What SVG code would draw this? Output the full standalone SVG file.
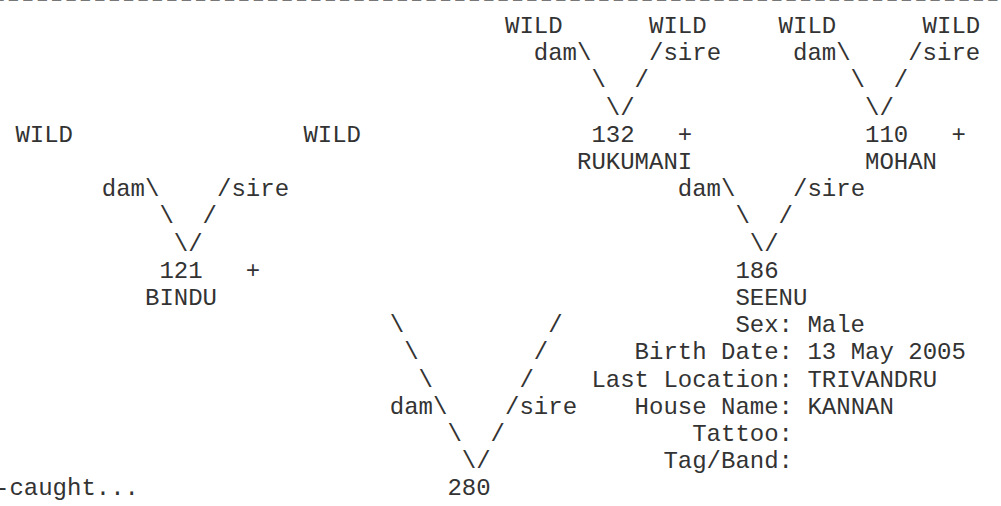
<svg xmlns="http://www.w3.org/2000/svg" width="1001" height="506" viewBox="0 0 1001 506">
<style>
text{font-family:"Liberation Mono","Courier New",monospace;font-size:24px;fill:#333;white-space:pre}
.rule{fill:#777;letter-spacing:-4.11px}
</style>
<rect width="1001" height="506" fill="#fff"/>
<g id="header-rule"><text class="rule" transform="scale(1.4,1)" x="-7.9" y="5.8">------------------------------------------------------------------------</text></g>
<g id="connectors">
<text x="533.8" y="60.2">dam\    /sire</text>
<text x="591.4" y="87.4">\  /</text>
<text x="605.8" y="114.6">\/</text>
<text x="793" y="60.2">dam\    /sire</text>
<text x="850.6" y="87.4">\  /</text>
<text x="865" y="114.6">\/</text>
<text x="101.8" y="196.2">dam\    /sire</text>
<text x="159.4" y="223.4">\  /</text>
<text x="173.8" y="250.6">\/</text>
<text x="677.8" y="196.2">dam\    /sire</text>
<text x="735.4" y="223.4">\  /</text>
<text x="749.8" y="250.6">\/</text>
<text x="389.8" y="332.2">\          /</text>
<text x="404.2" y="359.4">\        /</text>
<text x="418.6" y="386.6">\      /</text>
<text x="389.8" y="413.8">dam\    /sire</text>
<text x="447.4" y="441">\  /</text>
<text x="461.8" y="468.2">\/</text>
</g>
<g id="node-wild-a"><text x="505" y="33">WILD</text></g>
<g id="node-wild-b"><text x="649" y="33">WILD</text></g>
<g id="node-wild-c"><text x="778.6" y="33">WILD</text></g>
<g id="node-wild-d"><text x="922.6" y="33">WILD</text></g>
<g id="node-wild-e"><text x="15.4" y="141.8">WILD</text></g>
<g id="node-wild-f"><text x="303.4" y="141.8">WILD</text></g>
<g id="node-132"><text x="591.4" y="141.8">132   +</text><text x="577" y="169">RUKUMANI</text></g>
<g id="node-110"><text x="865" y="141.8">110   +</text><text x="865" y="169">MOHAN</text></g>
<g id="node-121"><text x="159.4" y="277.8">121   +</text><text x="145" y="305">BINDU</text></g>
<g id="node-186">
<text x="735.4" y="277.8">186</text>
<text x="735.4" y="305">SEENU</text>
<text x="735.4" y="332.2">Sex: Male</text>
<text x="634.6" y="359.4">Birth Date: 13 May 2005</text>
<text x="591.4" y="386.6">Last Location: TRIVANDRU</text>
<text x="634.6" y="413.8">House Name: KANNAN</text>
<text x="692.2" y="441">Tattoo:</text>
<text x="663.4" y="468.2">Tag/Band:</text>
</g>
<g id="node-280"><text x="447.4" y="495.4">280</text></g>
<g id="note"><text x="-5" y="495.4">-caught...</text></g>
</svg>
